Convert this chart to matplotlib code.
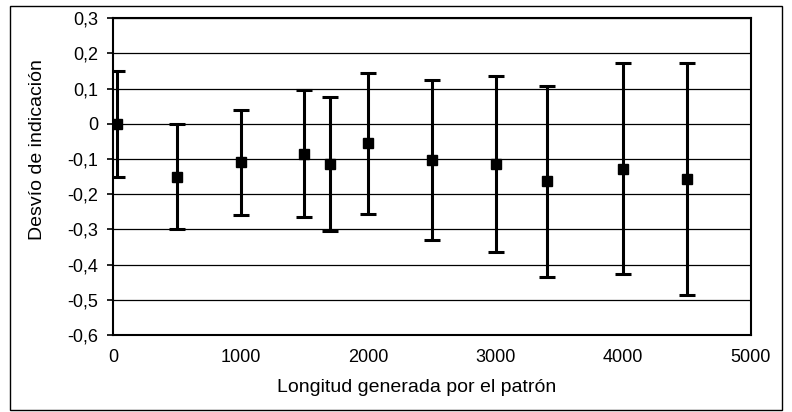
import matplotlib.pyplot as plt
from matplotlib.ticker import FuncFormatter
from matplotlib.patches import Rectangle

# data
longitud = [30, 500, 1000, 1500, 1700, 2000, 2500, 3000, 3400, 4000, 4500]
desvio = [0.0, -0.15, -0.11, -0.085, -0.115, -0.055, -0.103, -0.114, -0.164, -0.128, -0.157]
incert = [0.15, 0.15, 0.148, 0.18, 0.19, 0.2, 0.228, 0.25, 0.27, 0.3, 0.33]

plt.rcParams['font.family'] = ['Liberation Sans', 'DejaVu Sans']

fig = plt.figure(figsize=(7.92, 4.12), dpi=100)
ax = fig.add_axes([0.1427, 0.187, 0.948 - 0.1427, 0.956 - 0.187])

# frame around the whole chart
fig.patches.append(Rectangle((0.013, 0.006), 0.975, 0.98, transform=fig.transFigure,
                             fill=False, edgecolor='black', linewidth=1.0))

ax.errorbar(longitud, desvio, yerr=incert, fmt='s', color='black', markersize=7,
            elinewidth=2.2, capsize=6, capthick=2.2, zorder=3)

ax.set_xlim(0, 5000)
ax.set_ylim(-0.6, 0.3)
ax.set_xticks(range(0, 5001, 1000))
ax.set_yticks([i / 10 for i in range(-6, 4)])
ax.yaxis.set_major_formatter(FuncFormatter(
    lambda v, p: '0' if abs(v) < 1e-9 else f'{v:.1f}'.replace('.', ',')))
ax.grid(axis='y', color='black', linewidth=0.9)
ax.set_axisbelow(True)
for s in ax.spines.values():
    s.set_linewidth(1.5)

ax.tick_params(axis='x', length=0, pad=10, labelsize=13)
ax.tick_params(axis='y', length=4.5, width=1.2, pad=6, labelsize=13)
ax.set_ylabel('Desvío de indicación', fontsize=14)
ax.set_xlabel('Longitud generada por el patrón', fontsize=14)
# the labels sit a bit off-centre in the original
ax.yaxis.set_label_coords(-0.118, 0.584)
ax.xaxis.set_label_coords(0.476, -0.167)
ax.xaxis.label.set_va('center')
ax.yaxis.label.set_va('center')

plt.savefig('out.png', dpi=100)
